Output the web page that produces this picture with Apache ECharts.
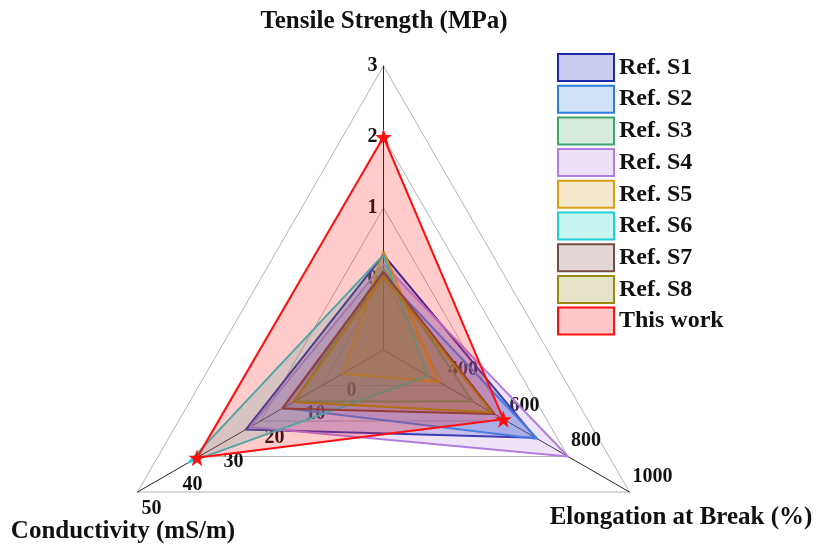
<!DOCTYPE html>
<html><head><meta charset="utf-8">
<script src="https://cdn.jsdelivr.net/npm/echarts@6/dist/echarts.min.js"></script>
<style>html,body{margin:0;padding:0;background:#fff}#c{width:817px;height:546px}</style>
</head><body><div id="c"></div>
<script>
// Radar axes (order: top, bottom-left, bottom-right)
const axisNames = ['Tensile Strength (MPa)', 'Conductivity (mS/m)', 'Elongation at Break (%)'];
const axisMin = [-1, -10, 200];
const axisMax = [3, 50, 1000];
const tensileTicks = [0, 1, 2, 3];
const conductivityTicks = [0, 10, 20, 30, 40, 50];
const elongationTicks = [400, 600, 800, 1000];

const seriesNames = ['Ref. S1', 'Ref. S2', 'Ref. S3', 'Ref. S4', 'Ref. S5', 'Ref. S6', 'Ref. S7', 'Ref. S8', 'This work'];
const tensile      = [0.34, 0.05, 0.15, 0.21, 0.39, 0.34, 0.10, 0.03, 2.0];
const conductivity = [23.6, 14.5, 11.8, 22.5, 0.0, 37.5, 14.7, 12.0, 35.5];
const elongation   = [695, 700, 490, 800, 380, 346, 561, 552, 590];

const lineColors = ['#1c2aa8', '#2f7de0', '#3aa86b', '#b07ee0', '#d4a017', '#20cfcf', '#7a4a44', '#9a8a10', '#ff1010'];
const fillColors = ['#c9ccee', '#d0e2f7', '#d5ecdf', '#eee2f8', '#f5e8cc', '#c8f4f2', '#e2d6d6', '#e6e4c8', '#ffc8c8'];

const STAR = 'path://M50,0 L61.8,35.1 L97.6,34.5 L68.8,55.9 L79.4,90.5 L50,69.5 L20.6,90.5 L31.2,55.9 L2.4,34.5 L38.2,35.1 Z';
const FONT = '"Liberation Serif", "Times New Roman", serif';

function near(v, list) { return list.some(t => Math.abs(v - t) < 1e-6); }
const tickLists = [tensileTicks, conductivityTicks, elongationTicks];
const labelPlacement = [
  {margin: 6},
  {margin: 8, verticalAlign: 'top'},
  {margin: 6, verticalAlign: 'bottom'}
];

const chart = echarts.init(document.getElementById('c'), null, {renderer: 'canvas'});

const series = seriesNames.map((name, i) => ({
  type: 'radar',
  name: name,
  symbol: i === 8 ? STAR : 'none',
  symbolSize: 17,
  itemStyle: {color: lineColors[i]},
  lineStyle: {color: lineColors[i], width: 2},
  areaStyle: {color: lineColors[i], opacity: 0.22},
  data: [{name: name, value: [tensile[i], conductivity[i], elongation[i]]}],
  z: 2 + i * 0.01
}));

chart.setOption({
  animation: false,
  backgroundColor: '#ffffff',
  radar: {
    center: [383.5, 350],
    radius: 284,
    startAngle: 90,
    shape: 'polygon',
    splitNumber: 12,
    indicator: axisNames.map((n, i) => ({
      name: '', min: axisMin[i], max: axisMax[i],
      axisLabel: Object.assign({formatter: v => near(v, tickLists[i]) ? String(Math.round(v)) : ''}, labelPlacement[i])
    })),
    axisName: {show: false},
    axisLine: {show: true, lineStyle: {color: '#222222', width: 1}},
    splitLine: {show: true, lineStyle: {color: ['#b4b4b4', 'rgba(0,0,0,0)', 'rgba(0,0,0,0)'], width: 1}},
    splitArea: {show: false},
    axisTick: {show: false},
    axisLabel: {show: true, color: '#111', fontFamily: FONT, fontWeight: 'bold', fontSize: 20, hideOverlap: false, showMinLabel: true, showMaxLabel: true}
  },
  legend: {
    orient: 'vertical',
    left: 552, top: 48,
    itemWidth: 56, itemHeight: 27, itemGap: 2.7,
    icon: 'rect',
    textStyle: {fontFamily: FONT, fontWeight: 'bold', fontSize: 24, color: '#111', lineHeight: 27},
    data: seriesNames.map((n, i) => ({
      name: n, icon: 'rect',
      itemStyle: {color: fillColors[i], borderColor: lineColors[i], borderWidth: 2, opacity: 1},
      lineStyle: {opacity: 0}
    }))
  },
  graphic: [
    {type: 'text', x: 384, y: 22, z: 100, style: {text: axisNames[0], font: 'bold 25px ' + FONT, fill: '#111', align: 'center', verticalAlign: 'middle'}},
    {type: 'text', x: 123, y: 532, z: 100, style: {text: axisNames[1], font: 'bold 25px ' + FONT, fill: '#111', align: 'center', verticalAlign: 'middle'}},
    {type: 'text', x: 681, y: 518, z: 100, style: {text: axisNames[2], font: 'bold 25px ' + FONT, fill: '#111', align: 'center', verticalAlign: 'middle'}}
  ],
  series: series
});
</script></body></html>
